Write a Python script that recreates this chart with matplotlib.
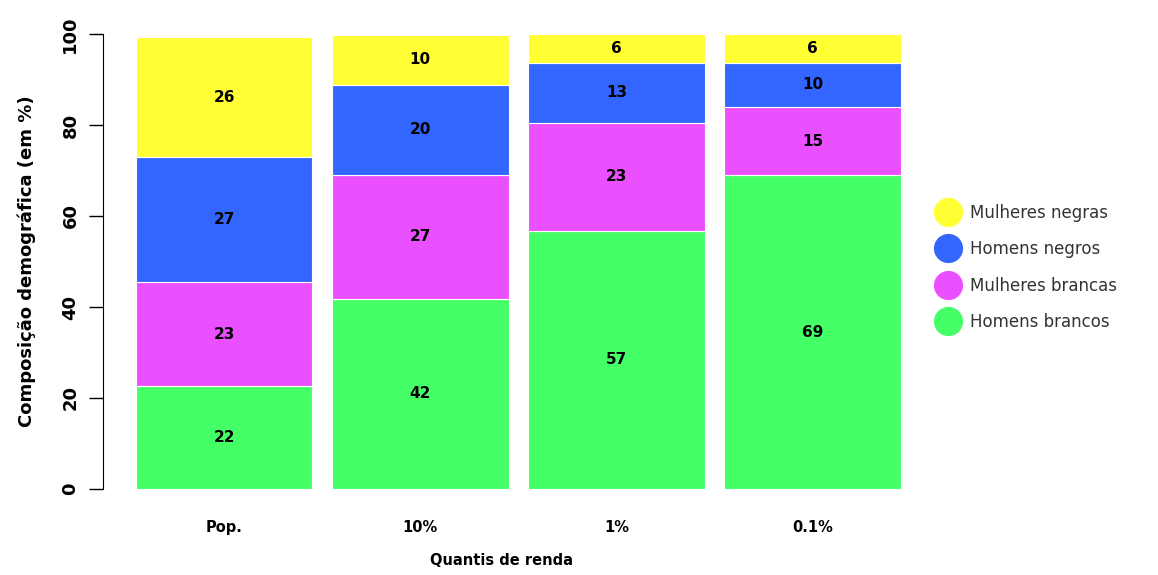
import matplotlib.pyplot as plt
from matplotlib.lines import Line2D

quantis = ["Pop.", "10%", "1%", "0.1%"]
grupos = ["Homens brancos", "Mulheres brancas", "Homens negros", "Mulheres negras"]
# bar heights
homens_brancos = [22.6, 41.8, 56.8, 69.0]
mulheres_brancas = [22.9, 27.2, 23.7, 14.9]
homens_negros = [27.4, 19.9, 13.2, 9.8]
mulheres_negras = [26.5, 10.8, 6.3, 6.3]
# numbers printed inside the bars
rotulos = [
    [22, 42, 57, 69],
    [23, 27, 23, 15],
    [27, 20, 13, 10],
    [26, 10, 6, 6],
]
cores = ["#44ff66", "#ea50ff", "#3366ff", "#ffff33"]

series = [homens_brancos, mulheres_brancas, homens_negros, mulheres_negras]

fig = plt.figure(figsize=(11.58, 5.75), dpi=100)
ax = fig.add_axes([103 / 1158, 86 / 575, 798 / 1158, 455 / 575])

x = list(range(len(quantis)))
bottom = [0] * len(quantis)
for vals, labs, cor in zip(series, rotulos, cores):
    ax.bar(x, vals, width=0.9, bottom=bottom, color=cor, edgecolor="white", linewidth=0.8)
    for i, v in enumerate(vals):
        ax.text(x[i], bottom[i] + v / 2, str(labs[i]), ha="center", va="center",
                fontsize=11, fontweight="bold", color="black")
    bottom = [b + v for b, v in zip(bottom, vals)]

ax.set_xlim(-0.617, 3.45)
ax.set_ylim(0, 100)
ax.set_yticks([0, 20, 40, 60, 80, 100])
ax.set_yticklabels(["0", "20", "40", "60", "80", "100"], rotation=90, va="center",
                   fontsize=13, fontweight="bold")
ax.tick_params(axis="y", length=10, width=1, pad=7)
ax.set_xticks(x)
ax.set_xticklabels(quantis, fontsize=10.5, fontweight="bold")
ax.tick_params(axis="x", length=0, pad=22)
for s in ["top", "right", "bottom"]:
    ax.spines[s].set_visible(False)
ax.spines["left"].set_bounds(0, 100)

ax.set_xlabel("Quantis de renda", fontsize=10.5, fontweight="bold", labelpad=13)
ax.set_ylabel("Composição demográfica (em %)", fontsize=13, fontweight="bold", labelpad=18)

handles = [Line2D([], [], marker="o", linestyle="", markersize=20,
                  markerfacecolor=c, markeredgecolor=c) for c in cores[::-1]]
fig.legend(handles, grupos[::-1], loc="center left", bbox_to_anchor=(0.791, 0.535),
           frameon=False, fontsize=12, labelspacing=1.1, handletextpad=0.35,
           labelcolor="#333333")

fig.savefig("out.png", dpi=100)
